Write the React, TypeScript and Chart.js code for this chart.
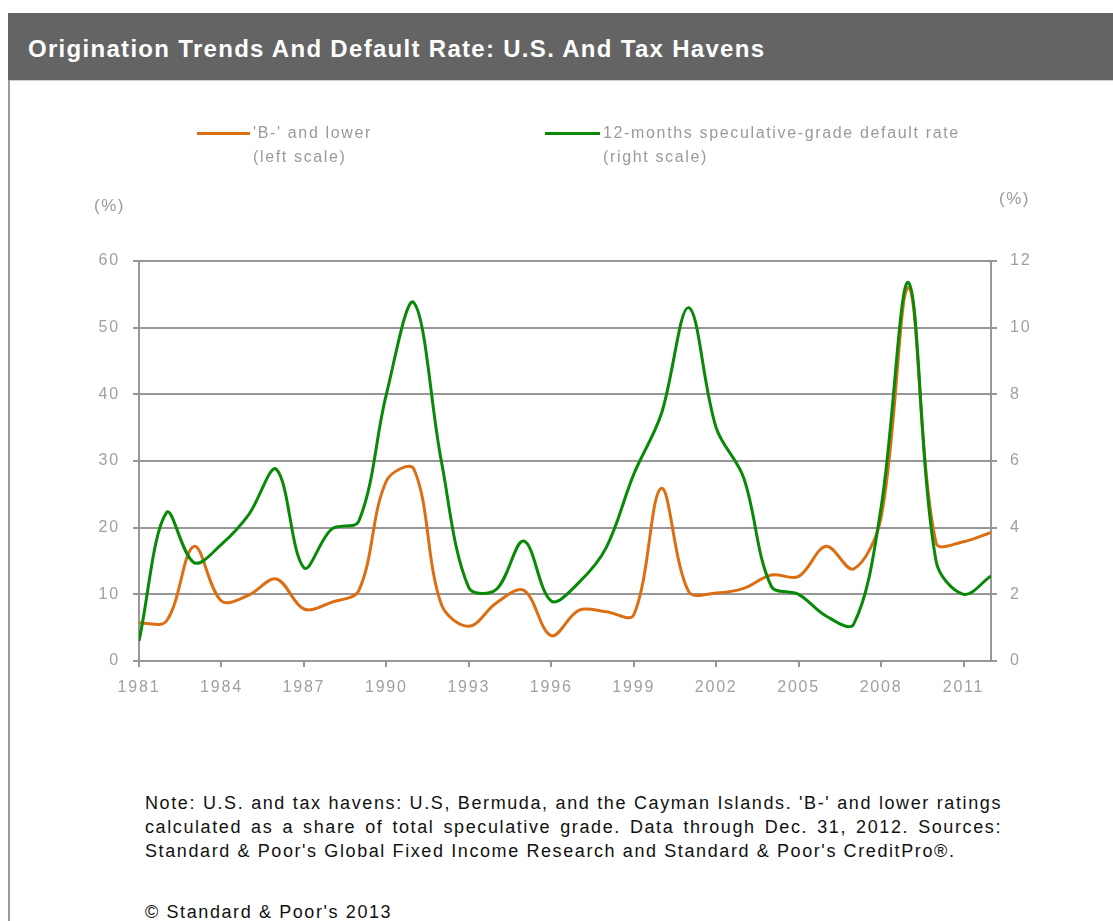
import React, { useEffect, useRef } from "react";
import { Chart, registerables } from "chart.js";

Chart.register(...registerables);

// ---------- data ----------
const years = [
  1981, 1982, 1983, 1984, 1985, 1986, 1987, 1988, 1989, 1990, 1991, 1992, 1993, 1994, 1995, 1996,
  1997, 1998, 1999, 2000, 2001, 2002, 2003, 2004, 2005, 2006, 2007, 2008, 2009, 2010, 2011, 2012,
];
const xTickYears = [1981, 1984, 1987, 1990, 1993, 1996, 1999, 2002, 2005, 2008, 2011];

// 'B-' and lower, share of speculative grade (left scale, %)
const bMinusShare = [
  5.7, 6.0, 17.2, 9.0, 9.9, 12.3, 7.8, 8.8, 10.6, 27.0, 28.8, 8.5, 5.2, 8.7, 10.6, 3.8,
  7.6, 7.4, 6.9, 25.9, 10.4, 10.2, 10.9, 12.9, 12.7, 17.2, 13.8, 21.5, 56.0, 17.7, 17.9, 19.3,
];
// 12-months speculative-grade default rate (right scale, %)
const defaultRate = [
  0.6, 4.45, 2.95, 3.5, 4.4, 5.75, 2.8, 3.95, 4.2, 8.0, 10.75, 6.0, 2.2, 2.15, 3.6, 1.8,
  2.35, 3.4, 5.6, 7.4, 10.6, 7.0, 5.5, 2.25, 2.0, 1.35, 1.1, 4.6, 11.35, 3.0, 2.0, 2.55,
];

const TITLE = "Origination Trends And Default Rate: U.S. And Tax Havens";
const legendOrange = ["'B-' and lower", "(left scale)"];
const legendGreen = ["12-months speculative-grade default rate", "(right scale)"];
const unitLabel = "(%)";
const noteText =
  "Note: U.S. and tax havens: U.S, Bermuda, and the Cayman Islands. 'B-' and lower ratings calculated as a share of total speculative grade. Data through Dec. 31, 2012. Sources: Standard & Poor's Global Fixed Income Research and Standard & Poor's CreditPro\u00AE.";
const copyright = "\u00A9 Standard & Poor's 2013";

// ---------- styles ----------
const ORANGE = "#DC6E14";
const GREEN = "#088A08";
const GRID = "#979797";
const TICK = "#A0A0A0";
const FONT = "'Liberation Sans', Arial, sans-serif";

const spacingPlugin = {
  id: "spacing",
  beforeDraw(chart: any) {
    chart.ctx.letterSpacing = "1.8px";
  },
  afterDraw(chart: any) {
    chart.ctx.letterSpacing = "0px";
  },
};

export default function App() {
  const ref = useRef<HTMLCanvasElement | null>(null);

  useEffect(() => {
    if (!ref.current) return;
    const tickFont = { family: FONT, size: 16 };
    const chart = new Chart(ref.current, {
      type: "line",
      data: {
        datasets: [
          {
            label: legendGreen.join(" "),
            data: years.map((x, i) => ({ x, y: defaultRate[i] })),
            yAxisID: "yR",
            borderColor: GREEN,
            backgroundColor: GREEN,
            borderWidth: 3,
            pointRadius: 0,
            tension: 0.35,
            fill: false,
            order: 0,
          },
          {
            label: legendOrange.join(" "),
            data: years.map((x, i) => ({ x, y: bMinusShare[i] })),
            yAxisID: "yL",
            borderColor: ORANGE,
            backgroundColor: ORANGE,
            borderWidth: 3,
            pointRadius: 0,
            tension: 0.35,
            fill: false,
            order: 1,
          },
        ],
      },
      options: {
        responsive: false,
        animation: false,
        devicePixelRatio: 1,
        layout: { padding: { top: 261, left: 0, right: 0, bottom: 0 } },
        plugins: {
          legend: { display: false },
          tooltip: { enabled: false },
          title: { display: false },
        },
        scales: {
          x: {
            type: "linear",
            min: 1981,
            max: 2012,
            afterBuildTicks: (axis: any) => {
              axis.ticks = xTickYears.map((v) => ({ value: v }));
            },
            afterFit: (s: any) => {
              s.height = 79;
            },
            grid: { drawOnChartArea: false, drawTicks: true, tickLength: 6, color: GRID, lineWidth: 2 },
            border: { display: true, color: GRID, width: 2 },
            ticks: {
              font: tickFont,
              color: TICK,
              padding: 11,
              maxRotation: 0,
              autoSkip: false,
              callback: (v: any) => String(v),
            },
          },
          yL: {
            type: "linear",
            position: "left",
            min: 0,
            max: 60,
            afterFit: (s: any) => {
              s.width = 139;
            },
            grid: { color: GRID, lineWidth: 2, tickLength: 6 },
            border: { display: true, color: GRID, width: 2 },
            ticks: { stepSize: 10, font: tickFont, color: TICK, padding: 13 },
          },
          yR: {
            type: "linear",
            position: "right",
            min: 0,
            max: 12,
            afterFit: (s: any) => {
              s.width = 122;
            },
            grid: { drawOnChartArea: false, color: GRID, lineWidth: 2, tickLength: 6 },
            border: { display: true, color: GRID, width: 2 },
            ticks: { stepSize: 2, font: tickFont, color: TICK, padding: 13 },
          },
        },
      } as any,
      plugins: [spacingPlugin],
    });
    return () => chart.destroy();
  }, []);

  const legendText: React.CSSProperties = {
    position: "absolute",
    fontFamily: FONT,
    fontSize: 16,
    lineHeight: "24px",
    color: "#9a9a9a",
    letterSpacing: "1.65px",
    whiteSpace: "nowrap",
  };

  return (
    <div
      style={{
        position: "absolute",
        left: 0,
        top: 0,
        width: 1113,
        height: 921,
        overflow: "hidden",
        background: "#fff",
        fontFamily: FONT,
      }}
    >
      {/* header */}
      <div style={{ position: "absolute", left: 8, top: 13, width: 1105, height: 67, background: "#646464" }} />
      <div
        style={{
          position: "absolute",
          left: 28,
          top: 37,
          fontSize: 24,
          lineHeight: "24px",
          fontWeight: "bold",
          color: "#fff",
          letterSpacing: "1.3px",
          whiteSpace: "nowrap",
        }}
      >
        {TITLE}
      </div>
      {/* panel borders */}
      <div style={{ position: "absolute", left: 8, top: 80, width: 1105, height: 1, background: "#cfcfcf" }} />
      <div style={{ position: "absolute", left: 8, top: 80, width: 2, height: 841, background: "#9a9a9a" }} />

      <canvas ref={ref} width={1113} height={740} style={{ position: "absolute", left: 0, top: 0 }} />

      {/* legend */}
      <div style={{ position: "absolute", left: 197, top: 132, width: 53, height: 3, background: ORANGE }} />
      <div style={{ ...legendText, left: 253, top: 121 }}>
        {legendOrange[0]}
        <br />
        {legendOrange[1]}
      </div>
      <div style={{ position: "absolute", left: 545, top: 132, width: 55, height: 3, background: GREEN }} />
      <div style={{ ...legendText, left: 603, top: 121 }}>
        {legendGreen[0]}
        <br />
        {legendGreen[1]}
      </div>

      {/* unit labels */}
      <div style={{ ...legendText, fontSize: 17, lineHeight: "20px", letterSpacing: "1.5px", left: 94, top: 196 }}>
        {unitLabel}
      </div>
      <div style={{ ...legendText, fontSize: 17, lineHeight: "20px", letterSpacing: "1.5px", left: 999, top: 189 }}>
        {unitLabel}
      </div>

      {/* note */}
      <div
        style={{
          position: "absolute",
          left: 145,
          top: 791,
          width: 857,
          fontSize: 18,
          lineHeight: "24px",
          color: "#111",
          textAlign: "justify",
          letterSpacing: "1.6px",
        }}
      >
        {noteText}
      </div>
      <div
        style={{
          position: "absolute",
          left: 145,
          top: 900,
          fontSize: 18,
          lineHeight: "24px",
          color: "#111",
          letterSpacing: "1.6px",
          whiteSpace: "nowrap",
        }}
      >
        {copyright}
      </div>
    </div>
  );
}
